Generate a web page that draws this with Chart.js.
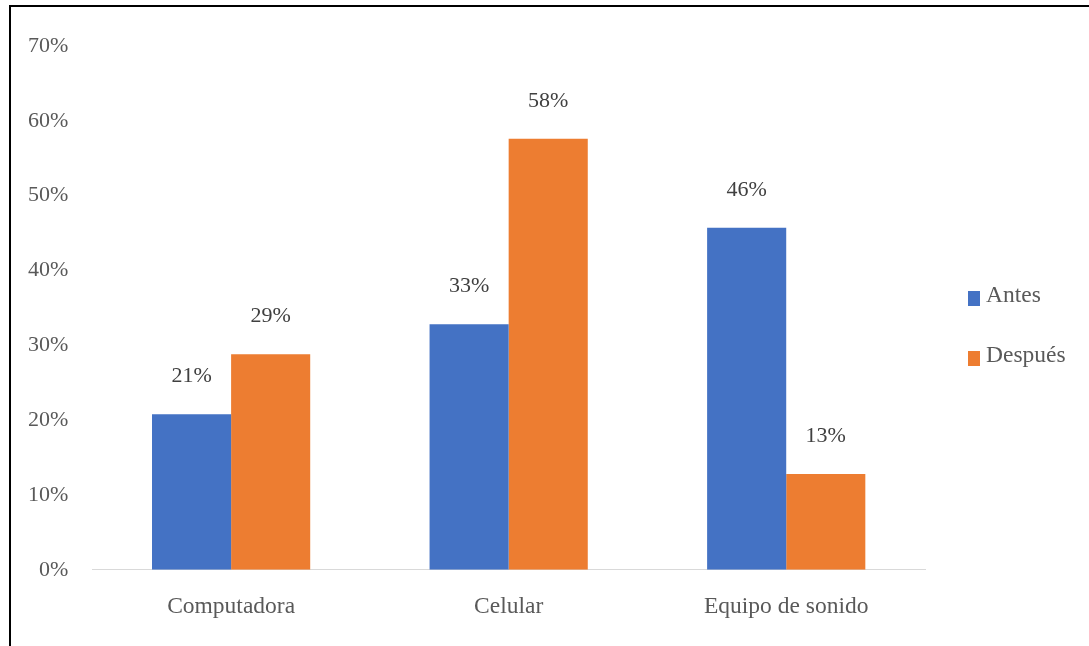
<!DOCTYPE html>
<html>
<head>
<meta charset="utf-8">
<script src="https://cdn.jsdelivr.net/npm/chart.js@4"></script>
<style>
  html, body { margin: 0; padding: 0; background: #fff; overflow: hidden; }
  #frame {
    position: absolute; left: 9px; top: 5px; width: 1200px; height: 800px;
    border-top: 2px solid #000; border-left: 2px solid #000;
  }
  #wrap { position: absolute; left: 0; top: 0; width: 1089px; height: 646px; }
</style>
</head>
<body>
<div id="frame"></div>
<div id="wrap"><canvas id="chart"></canvas></div>
<script>
// --- datos ---
const categorias = ['Computadora', 'Celular', 'Equipo de sonido'];
const antes = [20.8, 32.8, 45.7];
const despues = [28.8, 57.6, 12.8];
const serieNombres = ['Antes', 'Después'];
const serieColores = ['#4472C4', '#ED7D31'];
const yMax = 70;
const yPaso = 10;

const FUENTE = '"Liberation Serif", "Times New Roman", serif';
const TAM_TEXTO = 23.5;   // categorías y leyenda
const TAM_NUM = 22;       // porcentajes

// etiquetas de valor encima de cada barra
const etiquetasBarras = {
  id: 'etiquetasBarras',
  afterDatasetsDraw(chart) {
    const ctx = chart.ctx;
    ctx.save();
    ctx.font = TAM_NUM + 'px ' + FUENTE;
    ctx.fillStyle = '#404040';
    ctx.textAlign = 'center';
    ctx.textBaseline = 'middle';
    chart.data.datasets.forEach((ds, i) => {
      chart.getDatasetMeta(i).data.forEach((bar, j) => {
        ctx.fillText(Math.round(ds.data[j]) + '%', bar.x, bar.y - 38);
      });
    });
    ctx.restore();
  }
};

// leyenda a la derecha, dibujada a mano
const leyenda = {
  id: 'leyenda',
  afterDraw(chart) {
    const ctx = chart.ctx;
    const x0 = chart.chartArea.right + 43;
    ctx.save();
    ctx.font = TAM_TEXTO + 'px ' + FUENTE;
    ctx.textBaseline = 'alphabetic';
    chart.data.datasets.forEach((ds, i) => {
      const base = 302 + i * 60;
      ctx.fillStyle = ds.backgroundColor;
      ctx.fillRect(x0, base - 11, 12, 15);
      ctx.fillStyle = '#595959';
      ctx.fillText(ds.label, x0 + 18, base);
    });
    ctx.restore();
  }
};

new Chart(document.getElementById('chart'), {
  type: 'bar',
  data: {
    labels: categorias,
    datasets: [
      { label: serieNombres[0], data: antes, backgroundColor: serieColores[0] },
      { label: serieNombres[1], data: despues, backgroundColor: serieColores[1] }
    ]
  },
  options: {
    responsive: true,
    maintainAspectRatio: false,
    animation: false,
    layout: { padding: { left: 12, right: 164, top: 46, bottom: 10 } },
    datasets: { bar: { categoryPercentage: 0.57, barPercentage: 1.0 } },
    plugins: { legend: { display: false }, tooltip: { enabled: false } },
    scales: {
      x: {
        grid: { display: false },
        border: { display: true, color: '#d9d9d9', width: 1 },
        ticks: { color: '#595959', font: { family: FUENTE, size: TAM_TEXTO }, padding: 15 }
      },
      y: {
        min: 0, max: yMax,
        grid: { display: false },
        border: { display: false },
        ticks: {
          stepSize: yPaso,
          color: '#595959',
          font: { family: FUENTE, size: TAM_NUM },
          padding: 16,
          callback: v => v + '%'
        }
      }
    }
  },
  plugins: [etiquetasBarras, leyenda]
});
</script>
</body>
</html>
